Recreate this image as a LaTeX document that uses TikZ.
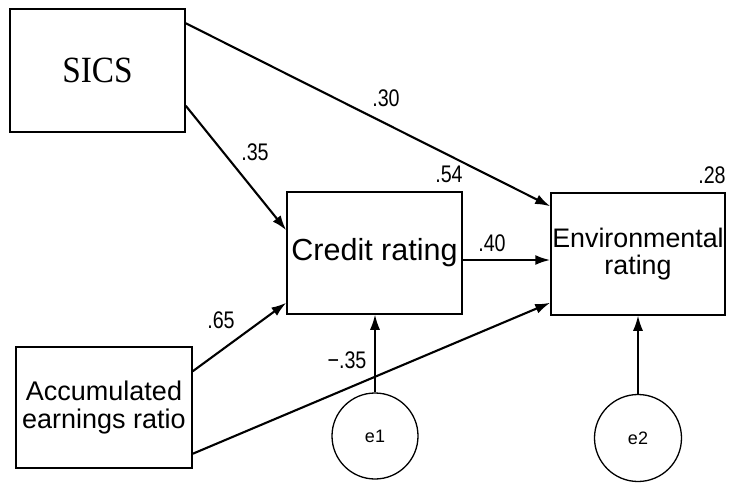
\documentclass[tikz,border=0pt]{standalone}
\usepackage{fontspec}
\setmainfont{Liberation Sans}
\newfontfamily\titlefont[FakeStretch=0.9]{Liberation Serif}
\newfontfamily\coeffont[FakeStretch=0.82]{Liberation Sans}
\usetikzlibrary{arrows.meta}
\begin{document}
\begin{tikzpicture}[x=1pt,y=-1pt,
  box/.style={draw, line width=1.5pt, inner sep=0pt, align=center},
  errc/.style={draw, circle, line width=1.3pt, inner sep=0pt, minimum size=86pt, font=\fontsize{18}{20}\selectfont},
  path/.style={line width=2.1pt, -{Latex[length=15pt,width=10pt]}},
  errpath/.style={line width=1.4pt, -{Latex[length=15pt,width=10pt]}},
  coef/.style={inner sep=0pt, font=\coeffont\fontsize{24}{26}\selectfont}]
\useasboundingbox (0,0) rectangle (730,484);

% observed variables
\node[box, minimum width=175pt, minimum height=123pt, font=\titlefont\fontsize{37}{40}\selectfont] (sics) at (97.5,70.5) {SICS};
\node[box, minimum width=175pt, minimum height=122pt, font=\fontsize{30.5}{34}\selectfont] (credit) at (374.5,253) {Credit rating};
\node[box, minimum width=174pt, minimum height=122pt, font=\fontsize{26.8}{27.5}\selectfont] (env) at (638,254) {Environmental\\rating};
\node[box, minimum width=176pt, minimum height=121pt, font=\fontsize{27}{28}\selectfont] (aer) at (104,407.5) {Accumulated\\earnings ratio};

% error terms
\node[errc] (e1) at (375,436) {e1};
\node[errc, minimum size=87pt] (e2) at (638,438) {e2};

% structural paths
\draw[path] ([yshift=-15pt]sics.north east) -- ([yshift=-14pt]env.north west);
\draw[path] ([yshift=27pt]sics.south east) -- ([yshift=-39pt]credit.north west);
\draw[path] ([yshift=-25pt]aer.north east) -- ([yshift=12pt]credit.south west);
\draw[path] ([yshift=15pt]aer.south east) -- ([yshift=13pt]env.south west);
\draw[path] ([yshift=-7pt]credit.east) -- ([yshift=-6pt]env.west);
\draw[errpath] (e1) -- (credit.south -| e1);
\draw[errpath] (e2) -- (env.south -| e2);

% coefficients
\node[coef] (c30) at (386,98) {.30};
\node[coef] (c35) at (255,152) {.35};
\node[coef] (c40) at (492,243) {.40};
\node[coef] (c65) at (221,320) {.65};
\node[coef] (cm35) at (347,360) {−.35};
\node[coef] (r54) at (449,174) {.54};
\node[coef] (r28) at (712,175) {.28};
\end{tikzpicture}
\end{document}
